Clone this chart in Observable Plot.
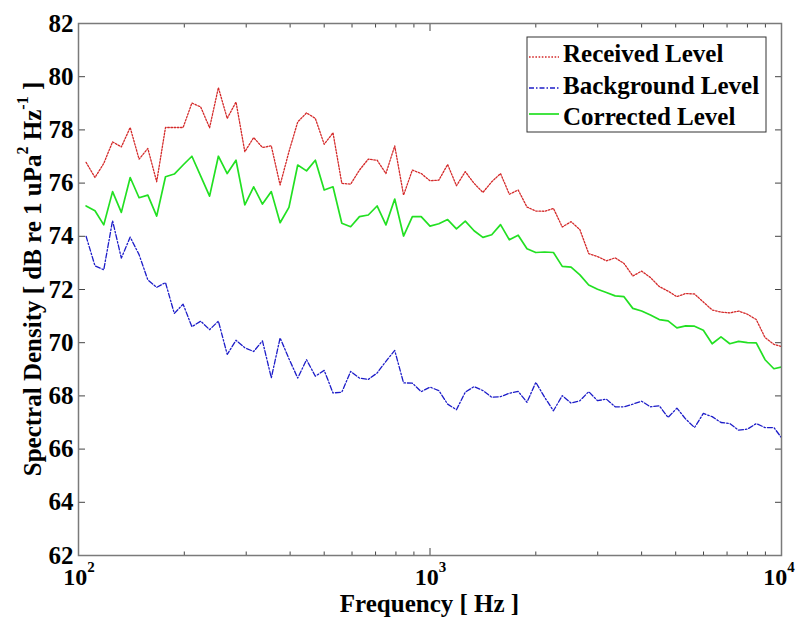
<!DOCTYPE html>
<html><head><meta charset="utf-8">
<script src="https://cdn.jsdelivr.net/npm/d3@7"></script>
<script src="https://cdn.jsdelivr.net/npm/@observablehq/plot@0.6"></script>
<style>
body{margin:0;background:#fff;}
#chart svg{display:block;}
</style>
</head><body><div id="chart"></div>
<script>
// 1/12-octave band centre frequencies (Hz)
const frequencies = [
  105.1,111.4,118.0,125.0,132.4,140.3,148.7,157.5,166.9,176.8,
  187.3,198.4,210.2,222.7,236.0,250.0,264.9,280.6,297.3,315.0,
  333.7,353.6,374.6,396.9,420.4,445.4,471.9,500.0,529.7,561.2,
  594.6,630.0,667.4,707.1,749.2,793.7,840.9,890.9,943.9,1000,
  1059.5,1122.5,1189.2,1259.9,1334.8,1414.2,1498.3,1587.4,1681.8,1781.8,
  1887.7,2000,2118.9,2244.9,2378.4,2519.8,2669.6,2828.4,2996.6,3174.8,
  3363.6,3563.6,3775.5,4000,4237.8,4489.8,4756.8,5039.7,5339.3,5656.9,
  5993.1,6349.6,6727.2,7127.1,7551.0,8000,8475.6,8979.7,9513.7,10079.4
];
const receivedLevel = [
  76.78,76.21,76.74,77.55,77.36,78.09,76.90,77.30,76.05,78.09,
  78.09,78.09,79.01,78.86,78.08,79.59,78.43,79.05,77.18,77.71,
  77.34,77.40,75.93,77.18,78.30,78.64,78.43,77.46,77.89,75.99,
  75.96,76.49,76.90,76.86,76.36,77.40,75.55,76.49,76.36,76.09,
  76.11,76.70,75.90,76.43,75.99,75.65,76.05,76.36,75.58,75.74,
  75.10,74.95,74.94,75.05,74.35,74.55,74.25,73.35,73.24,73.08,
  73.19,72.98,72.51,72.69,72.45,72.11,71.94,71.73,71.85,71.83,
  71.53,71.23,71.15,71.12,71.19,71.07,70.87,70.19,69.94,69.84
];
const backgroundLevel = [
  74.00,72.89,72.74,74.59,73.18,73.97,73.31,72.36,72.08,72.26,
  71.10,71.45,70.60,70.81,70.49,70.81,69.56,70.09,69.81,69.67,
  70.07,68.68,70.18,69.40,68.67,69.36,68.74,68.96,68.11,68.14,
  68.92,68.67,68.62,68.86,69.30,69.71,68.49,68.48,68.16,68.33,
  68.20,67.69,67.48,68.14,68.35,68.20,67.95,67.97,68.10,68.17,
  67.76,68.51,67.95,67.44,68.01,67.73,67.82,68.16,67.82,67.88,
  67.59,67.59,67.69,67.80,67.59,67.63,67.19,67.54,67.13,66.81,
  67.34,67.22,67.00,66.96,66.71,66.75,66.96,66.81,66.81,66.37
];
const correctedLevel = [
  75.14,74.96,74.43,75.68,74.90,76.21,75.45,75.55,74.76,76.24,
  76.34,76.68,77.01,76.26,75.51,77.01,76.36,76.86,75.18,75.86,
  75.21,75.68,74.51,75.09,76.68,76.46,76.86,75.74,75.86,74.49,
  74.36,74.74,74.80,75.14,74.43,75.40,74.01,74.74,74.74,74.38,
  74.47,74.63,74.28,74.57,74.21,73.96,74.06,74.44,73.87,74.04,
  73.53,73.39,73.41,73.39,72.87,72.84,72.55,72.17,72.01,71.89,
  71.76,71.73,71.29,71.19,71.04,70.87,70.82,70.56,70.63,70.62,
  70.47,69.96,70.22,69.96,70.05,70.00,69.99,69.36,69.02,69.10
];
const seriesNames = ["Received Level", "Background Level", "Corrected Level"];
const seriesColors = ["#d42a2a", "#1c1cc8", "#22e022"];
const seriesDash = ["1.6,1.6", "5,2,1.5,2", null];
const seriesWidth = [1.3, 1.3, 1.7];
const yTicks = [62,64,66,68,70,72,74,76,78,80,82];
const xMajorTicks = [100, 1000, 10000];
const xMinorTicks = [200,300,400,500,600,700,800,900,2000,3000,4000,5000,6000,7000,8000,9000];
const xTickExponents = ["2", "3", "4"];
const xLabel = "Frequency [ Hz ]";

const seriesValues = [receivedLevel, backgroundLevel, correctedLevel];
const table = seriesValues.map(vals => frequencies.map((f, i) => ({f, v: vals[i]})));

const FONT = "'Liberation Serif', 'Times New Roman', serif";
const FS = 25;
const axisColor = "#7a7a7a";
const tickColor = "#444";

const chart = Plot.plot({
  width: 796,
  height: 617,
  marginLeft: 78,
  marginRight: 15,
  marginTop: 23,
  marginBottom: 62,
  style: {fontFamily: FONT, fontSize: FS + "px", fontWeight: "bold", background: "#fff", color: "#000"},
  x: {type: "log", domain: [100, 10000]},
  y: {domain: [62, 82]},
  marks: [
    ...table.map((d, k) => Plot.line(d, {
      x: "f", y: "v", stroke: seriesColors[k], strokeWidth: seriesWidth[k],
      strokeDasharray: seriesDash[k], clip: true
    })),
    Plot.axisY(yTicks, {anchor: "left", tickSize: -7, fill: "none", stroke: tickColor, label: null}),
    Plot.axisY(yTicks, {anchor: "right", tickSize: -7, fill: "none", stroke: tickColor, label: null}),
    Plot.axisY(yTicks, {anchor: "left", tickSize: 0, tickPadding: 5, stroke: "none", fill: "#000", label: null, tickFormat: d => String(d)}),
    Plot.axisX(xMajorTicks, {anchor: "bottom", tickSize: -7, fill: "none", stroke: tickColor, label: null}),
    Plot.axisX(xMinorTicks, {anchor: "bottom", tickSize: -3.5, fill: "none", stroke: tickColor, label: null}),
    Plot.axisX(xMajorTicks, {anchor: "top", tickSize: -7, fill: "none", stroke: tickColor, label: null}),
    Plot.axisX(xMinorTicks, {anchor: "top", tickSize: -3.5, fill: "none", stroke: tickColor, label: null}),
    Plot.frame({stroke: axisColor, strokeWidth: 1.5})
  ]
});

document.getElementById("chart").appendChild(chart);

const svg = d3.select(chart);
const xs = chart.scale("x");
const ys = chart.scale("y");

// x tick labels 10^n with superscript
const xl = svg.append("g").attr("font-family", FONT).attr("font-weight", "bold").attr("fill", "#000");
xMajorTicks.forEach((t, i) => {
  const shift = i === xMajorTicks.length - 1 ? -2 : 1;
  const txt = xl.append("text").attr("x", xs.apply(t) + shift).attr("y", 585)
    .attr("text-anchor", "middle").attr("font-size", FS - 1);
  txt.append("tspan").text("10");
  txt.append("tspan").attr("font-size", 15).attr("dy", -13).text(xTickExponents[i]);
});

// x axis label
svg.append("text").attr("x", (xs.apply(100) + xs.apply(10000)) / 2).attr("y", 612)
  .attr("text-anchor", "middle").attr("font-family", FONT).attr("font-weight", "bold")
  .attr("font-size", FS).attr("fill", "#000").text(xLabel);

// y axis label
const ymid = (ys.apply(62) + ys.apply(82)) / 2 - 10;
const yl = svg.append("text").attr("transform", `translate(41,${ymid}) rotate(-90)`)
  .attr("text-anchor", "middle").attr("font-family", FONT).attr("font-weight", "bold")
  .attr("font-size", FS).attr("fill", "#000");
yl.append("tspan").text("Spectral Density [ dB re 1 uPa");
yl.append("tspan").attr("font-size", 16).attr("dy", -13).text("2");
yl.append("tspan").attr("dy", 13).text(" Hz");
yl.append("tspan").attr("font-size", 16).attr("dy", -13).text("-1");
yl.append("tspan").attr("dy", 13).text(" ]");

// legend
const lg = svg.append("g").attr("font-family", FONT).attr("font-weight", "bold").attr("font-size", FS);
lg.append("rect").attr("x", 527).attr("y", 37).attr("width", 239).attr("height", 95)
  .attr("fill", "#fff").attr("stroke", "#333").attr("stroke-width", 1);
const rowBase = [62, 94, 125];
const rowLine = [57, 88, 114];
seriesNames.forEach((name, k) => {
  lg.append("line").attr("x1", 529).attr("x2", 559).attr("y1", rowLine[k]).attr("y2", rowLine[k])
    .attr("stroke", seriesColors[k]).attr("stroke-width", seriesWidth[k])
    .attr("stroke-dasharray", seriesDash[k]);
  lg.append("text").attr("x", 563).attr("y", rowBase[k]).attr("text-anchor", "start")
    .attr("fill", "#000").text(name);
});
</script>
</body></html>
